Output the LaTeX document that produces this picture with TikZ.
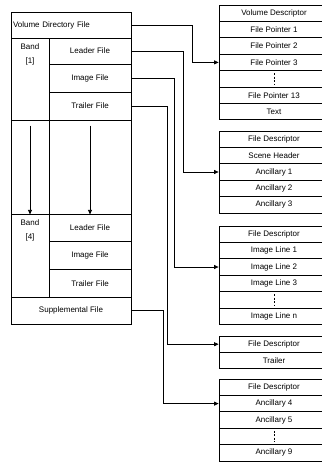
\documentclass[tikz,border=0pt]{standalone}
\usepackage{fontspec}
\setmainfont{Liberation Sans}
\usetikzlibrary{arrows.meta,positioning}

\begin{document}
\begin{tikzpicture}[x=1pt,y=-1pt,
    cell/.style={draw,line width=0.8pt,inner sep=0pt,font=\fontsize{8}{10}\selectfont},
    filebox/.style={cell,minimum width=82pt,minimum height=27.5pt},
    bandbox/.style={cell,minimum width=38pt},
    row/.style={cell,minimum width=110pt,minimum height=16.4pt},
    gaps/.style={dashed,line width=0.6pt,dash pattern=on 2pt off 1.5pt},
    link/.style={line width=0.7pt,-{Triangle[length=4.5pt,width=4pt]}}
  ]
    \useasboundingbox (0,0) rectangle (321,462);
    % tape layout (left)
    \node[cell,minimum width=120pt,minimum height=26pt,text width=116pt,align=left] (vdf) at (71,25) {Volume Directory File};
    \node[bandbox,minimum height=82pt] (band1) at (30,79) {};
    \node[font=\fontsize{8}{14}\selectfont,align=center,inner sep=0pt,below=6pt of band1.north] (band1txt) {Band\\{[1]}};
    \node[filebox,minimum height=26pt] (lead1) at (90,51) {Leader File};
    \node[filebox,minimum height=28pt] (img1) at (90,78) {Image File};
    \node[filebox,minimum height=28pt] (trl1) at (90,106) {Trailer File};
    \node[bandbox,minimum height=94pt] (gapl) at (30,167) {};
    \node[filebox,minimum height=94pt] (gapr) at (90,167) {};
    \draw[link] ([yshift=-6pt]gapl.north) -- (gapl.south);
    \draw[link] ([yshift=-6pt]gapr.north) -- (gapr.south);
    \node[bandbox,minimum height=83pt] (band4) at (30,255.5) {};
    \node[font=\fontsize{8}{14}\selectfont,align=center,inner sep=0pt,below=6pt of band4.north] (band4txt) {Band\\{[4]}};
    \node[filebox,minimum height=27.67pt] (lead4) at (90,227.83) {Leader File};
    \node[filebox,minimum height=27.67pt] (img4) at (90,255.5) {Image File};
    \node[filebox,minimum height=27.67pt] (trl4) at (90,283.17) {Trailer File};
    \node[cell,minimum width=120pt,minimum height=27pt] (supp) at (71,310.5) {Supplemental File};
    % record stacks (right)
    \foreach \txt [count=\i] in {Volume Descriptor,File Pointer 1,File Pointer 2,File Pointer 3,{},File Pointer 13,Text}
      \node[row] (vd\i) at (274,{5+16.4*(\i-0.5)}) {\txt};
    \foreach \txt [count=\i] in {File Descriptor,Scene Header,Ancillary 1,Ancillary 2,Ancillary 3}
      \node[row] (ld\i) at (274,{131+16.4*(\i-0.5)}) {\txt};
    \foreach \txt [count=\i] in {File Descriptor,Image Line 1,Image Line 2,Image Line 3,{},Image Line n}
      \node[row] (im\i) at (274,{226+16.4*(\i-0.5)}) {\txt};
    \foreach \txt [count=\i] in {File Descriptor,Trailer}
      \node[row] (tr\i) at (274,{336+16.4*(\i-0.5)}) {\txt};
    \foreach \txt [count=\i] in {File Descriptor,Ancillary 4,Ancillary 5,{},Ancillary 9}
      \node[row] (sp\i) at (274,{379+16.4*(\i-0.5)}) {\txt};
    \foreach \r in {vd5,im5,sp4}
      \draw[gaps] ([yshift=-3pt]\r.north) -- ([yshift=3pt]\r.south);
    % pointers
    \draw[link] (vdf.east) -- ++(61,0) |- (vd4.west);
    \draw[link] (lead1.east) -- ++(52,0) |- (ld3.west);
    \draw[link] (img1.east) -- ++(43,0) |- (im3.west);
    \draw[link] (trl1.east) -- ++(36,0) |- (tr1.west);
    \draw[link] (supp.east) -- ++(32,0) |- (sp2.west);
  \end{tikzpicture}
\end{document}
